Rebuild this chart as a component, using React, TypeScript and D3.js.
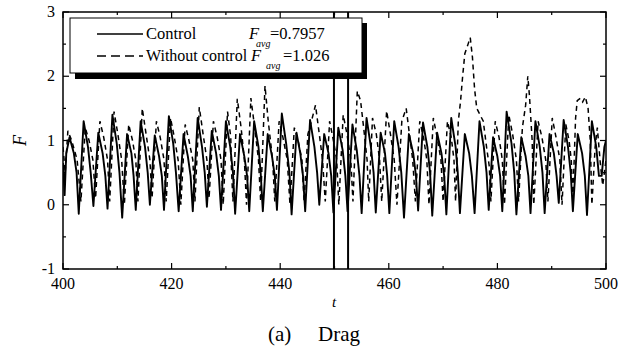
import React from "react";
import * as d3 from "d3";

// ---- data (t, F) ----
const controlSeries: [number, number][] = [
  [400.0, 0.65], [400.3, 0.15], [400.6, 0.8], [401.2, 1.05], [402.0, 0.8], [402.5, 0.5],
  [402.9, -0.14], [403.8, 1.3], [404.6, 0.9], [405.1, 0.5],
  [405.6, -0.02], [406.5, 1.12], [407.3, 0.8], [407.8, 0.45],
  [408.2, -0.06], [409.1, 1.4], [409.9, 0.95], [410.4, 0.5],
  [410.9, -0.2], [411.8, 1.1], [412.6, 0.8], [413.0, 0.45],
  [413.4, -0.08], [414.3, 1.3], [415.1, 0.9], [415.6, 0.5],
  [416.0, 0.0], [416.9, 1.08], [417.7, 0.75], [418.2, 0.45],
  [418.6, -0.08], [419.5, 1.38], [420.3, 0.95], [420.8, 0.5],
  [421.3, -0.1], [422.2, 1.1], [423.0, 0.75], [423.5, 0.45],
  [423.9, -0.1], [424.8, 1.35], [425.6, 0.9], [426.1, 0.5],
  [426.5, -0.03], [427.4, 1.15], [428.2, 0.8], [428.7, 0.45],
  [429.1, -0.08], [430.0, 1.3], [430.8, 0.9], [431.3, 0.5],
  [431.7, -0.14], [432.6, 1.1], [433.4, 0.75], [433.9, 0.45],
  [434.3, -0.1], [435.2, 1.3], [436.0, 0.9], [436.4, 0.5],
  [436.8, -0.1], [437.7, 1.1], [438.5, 0.75], [439.0, 0.45],
  [439.4, -0.08], [440.3, 1.42], [441.1, 0.95], [441.7, 0.5],
  [442.1, -0.15], [443.0, 1.12], [443.7, 0.8], [444.2, 0.45],
  [444.6, -0.1], [445.5, 1.32], [446.3, 0.9], [446.8, 0.5],
  [447.2, 0.0], [448.1, 1.1], [448.9, 0.8], [449.4, 0.45],
  [449.8, -0.12], [450.7, 1.2], [451.5, 0.85], [452.0, 0.45],
  [452.4, -0.1], [453.3, 1.25], [454.1, 0.85], [454.6, 0.45],
  [455.0, -0.13], [455.9, 1.35], [456.7, 0.9], [457.2, 0.5],
  [457.6, -0.12], [458.5, 1.12], [459.3, 0.8], [459.7, 0.45],
  [460.1, -0.13], [461.0, 1.3], [461.8, 0.9], [462.3, 0.5],
  [462.8, -0.2], [463.7, 1.1], [464.5, 0.8], [465.0, 0.45],
  [465.4, -0.09], [466.3, 1.28], [467.1, 0.9], [467.6, 0.5],
  [468.0, -0.17], [468.9, 1.12], [469.7, 0.8], [470.2, 0.45],
  [470.6, -0.15], [471.5, 1.35], [472.3, 0.9], [472.7, 0.5],
  [473.1, -0.13], [474.0, 1.1], [474.8, 0.8], [475.3, 0.45],
  [475.8, -0.13], [476.7, 1.3], [477.5, 0.9], [478.0, 0.5],
  [478.4, -0.08], [479.2, 1.05], [480.0, 0.75], [480.5, 0.45],
  [480.9, -0.1], [481.7, 1.45], [482.6, 0.95], [483.1, 0.5],
  [483.5, -0.15], [484.4, 1.05], [485.2, 0.75], [485.7, 0.45],
  [486.1, -0.13], [487.0, 1.3], [487.8, 0.9], [488.3, 0.5],
  [488.7, -0.13], [489.6, 1.1], [490.4, 0.8], [490.9, 0.45],
  [491.3, 0.03], [492.2, 1.32], [493.0, 0.9], [493.5, 0.5],
  [493.9, -0.1], [494.8, 1.1], [495.6, 0.8], [496.1, 0.45],
  [496.5, -0.16], [497.4, 1.3], [498.2, 0.9], [498.7, 0.45],
  [499.2, 0.45], [499.7, 0.9], [500.0, 1.0],
];

const withoutControlSeries: [number, number][] = [
  [400.0, 0.9], [400.4, 0.5], [400.9, 1.15], [401.6, 1.0], [402.6, 0.7],
  [403.3, 0.05], [404.1, 1.2], [404.8, 1.0], [405.5, 0.7],
  [406.0, 0.1], [406.8, 1.3], [407.5, 1.05], [408.2, 0.7],
  [408.6, 0.05], [409.4, 1.45], [410.1, 1.1], [410.8, 0.7],
  [411.3, 0.0], [412.1, 1.25], [412.8, 1.0], [413.4, 0.7],
  [413.8, 0.05], [414.6, 1.5], [415.3, 1.1], [416.0, 0.7],
  [416.4, 0.1], [417.2, 1.3], [417.9, 1.05], [418.6, 0.7],
  [419.0, 0.05], [419.8, 1.35], [420.5, 1.05], [421.2, 0.7],
  [421.7, 0.0], [422.5, 1.25], [423.2, 1.0], [423.9, 0.7],
  [424.3, 0.05], [425.1, 1.52], [425.8, 1.1], [426.5, 0.7],
  [426.9, 0.1], [427.7, 1.3], [428.4, 1.05], [429.1, 0.7],
  [429.5, 0.0], [430.3, 1.45], [430.9, 1.05], [431.0, 0.6],
  [431.3, 0.05], [432.1, 1.65], [432.8, 1.2], [433.4, 0.7],
  [433.8, 0.0], [434.6, 1.66], [435.3, 1.2], [436.0, 0.7],
  [436.4, 0.05], [437.2, 1.85], [437.8, 1.3], [438.6, 0.7],
  [439.0, 0.05], [439.8, 1.3], [440.5, 1.05], [441.3, 0.7],
  [441.8, 0.0], [442.6, 1.2], [443.3, 1.0], [444.0, 0.7],
  [444.4, 0.05], [445.1, 1.1], [445.6, 1.25], [446.5, 1.55], [447.2, 1.1], [447.8, 0.7],
  [448.3, 0.05], [449.1, 1.3], [449.8, 1.0], [450.4, 0.7],
  [450.8, 0.0], [451.6, 1.4], [452.3, 1.1], [453.0, 0.7],
  [453.4, 0.05], [454.2, 1.77], [454.8, 1.62], [455.5, 1.1], [456.0, 0.7],
  [456.3, 0.05], [457.0, 1.35], [457.7, 1.1], [458.3, 0.7],
  [458.7, 0.05], [459.6, 1.46], [460.3, 1.1], [461.0, 0.7],
  [461.5, 0.0], [462.4, 1.3], [463.2, 1.5], [463.8, 1.1], [464.4, 0.7],
  [464.9, 0.05], [465.7, 1.3], [466.4, 1.05], [467.0, 0.7],
  [467.4, 0.0], [468.2, 1.35], [468.9, 1.05], [469.6, 0.7],
  [470.0, 0.05], [470.8, 1.3], [471.5, 1.05], [472.0, 0.7],
  [472.3, 0.05], [472.8, 1.3], [473.2, 1.6], [473.6, 2.0], [474.0, 2.35], [474.6, 2.5],
  [475.0, 2.6], [475.4, 2.3], [475.8, 1.8], [476.2, 1.5], [476.8, 1.4], [477.4, 1.3],
  [478.0, 0.9], [478.5, 0.6],
  [478.8, 0.05], [479.6, 1.3], [480.3, 1.05], [480.9, 0.7],
  [481.3, 0.0], [482.1, 1.4], [482.8, 1.1], [483.5, 0.7],
  [483.9, 0.05], [484.6, 1.2], [485.2, 1.55], [485.6, 2.0], [485.9, 1.7], [486.4, 1.0],
  [486.7, 0.0], [487.5, 1.3], [488.2, 1.05], [488.9, 0.7],
  [489.3, 0.05], [490.1, 1.35], [490.8, 1.05], [491.5, 0.7],
  [491.9, 0.0], [492.6, 1.25], [493.2, 1.0], [493.6, 0.7],
  [493.9, 0.1], [494.4, 1.35], [494.7, 1.62], [495.3, 1.66], [495.7, 1.6], [496.2, 1.68],
  [496.7, 1.5], [497.1, 1.0],
  [497.4, 0.0], [498.0, 0.9], [498.4, 1.2], [499.0, 0.6], [499.4, 0.3], [500.0, 0.7],
];

const xTicks = [400, 420, 440, 460, 480, 500];
const xMinorTicks = [410, 430, 450, 470, 490];
const yTicks = [-1, 0, 1, 2, 3];
const yMinorTicks = [-0.5, 0.5, 1.5, 2.5];
const markerLines = [449.9, 452.5];
const legendAvgControl = "=0.7957";
const legendAvgWithout = "=1.026";

const W = 627;
const H = 349;
const left = 63;
const right = 606;
const top = 12;
const bottom = 269;

const SERIF = "Liberation Serif, Times New Roman, serif";

export default function App() {
  const x = d3.scaleLinear().domain([400, 500]).range([left, right]);
  const y = d3.scaleLinear().domain([-1, 3]).range([bottom, top]);
  const line = d3
    .line<[number, number]>()
    .x((d) => x(d[0]))
    .y((d) => y(d[1]));

  const major = 6;
  const minor = 3;
  const ts = { fontFamily: SERIF };

  return (
    <svg
      width={W}
      height={H}
      viewBox={`0 0 ${W} ${H}`}
      style={{ position: "absolute", left: 0, top: 0, background: "#fff", fontFamily: SERIF }}
    >
      <rect x={0} y={0} width={W} height={H} fill="#fff" />
      <defs>
        <clipPath id="plotclip">
          <rect x={left} y={top} width={right - left} height={bottom - top} />
        </clipPath>
      </defs>

      {/* data */}
      <g clipPath="url(#plotclip)">
        <path
          d={line(withoutControlSeries) || ""}
          fill="none"
          stroke="#000"
          strokeWidth={1.5}
          strokeDasharray="5,4"
        />
        <path
          d={line(controlSeries) || ""}
          fill="none"
          stroke="#000"
          strokeWidth={1.9}
          strokeLinejoin="round"
        />
        {markerLines.map((t) => (
          <line key={t} x1={x(t)} x2={x(t)} y1={top} y2={bottom} stroke="#000" strokeWidth={2} />
        ))}
      </g>

      {/* frame */}
      <rect x={left} y={top} width={right - left} height={bottom - top} fill="none" stroke="#000" strokeWidth={1.5} />

      {/* x ticks */}
      {xTicks.map((t) => (
        <g key={"xt" + t}>
          <line x1={x(t)} x2={x(t)} y1={bottom} y2={bottom - major} stroke="#000" strokeWidth={1.2} />
          <line x1={x(t)} x2={x(t)} y1={top} y2={top + major} stroke="#000" strokeWidth={1.2} />
          <text x={x(t)} y={bottom + 20} fontSize={16} textAnchor="middle" style={ts}>
            {t}
          </text>
        </g>
      ))}
      {xMinorTicks.map((t) => (
        <g key={"xm" + t}>
          <line x1={x(t)} x2={x(t)} y1={bottom} y2={bottom - minor} stroke="#000" strokeWidth={1.2} />
          <line x1={x(t)} x2={x(t)} y1={top} y2={top + minor} stroke="#000" strokeWidth={1.2} />
        </g>
      ))}

      {/* y ticks */}
      {yTicks.map((v) => (
        <g key={"yt" + v}>
          <line x1={left} x2={left + major} y1={y(v)} y2={y(v)} stroke="#000" strokeWidth={1.2} />
          <line x1={right} x2={right - major} y1={y(v)} y2={y(v)} stroke="#000" strokeWidth={1.2} />
          <text x={left - 8} y={y(v) + 5} fontSize={16} textAnchor="end" style={ts}>
            {v}
          </text>
        </g>
      ))}
      {yMinorTicks.map((v) => (
        <g key={"ym" + v}>
          <line x1={left} x2={left + minor} y1={y(v)} y2={y(v)} stroke="#000" strokeWidth={1.2} />
          <line x1={right} x2={right - minor} y1={y(v)} y2={y(v)} stroke="#000" strokeWidth={1.2} />
        </g>
      ))}

      {/* axis labels */}
      <text x={334} y={307} fontSize={15} fontStyle="italic" textAnchor="middle" style={ts}>
        t
      </text>
      <text
        transform={`translate(26,${y(1)}) rotate(-90)`}
        fontSize={18}
        fontStyle="italic"
        textAnchor="middle"
        style={ts}
      >
        F
      </text>
      <text x={268} y={341} fontSize={21} style={ts}>
        (a)
      </text>
      <text x={318} y={341} fontSize={21} style={ts}>
        Drag
      </text>

      {/* legend */}
      <rect x={75} y={23} width={292} height={56} fill="#000" />
      <rect x={70} y={18} width={292} height={55} fill="#fff" stroke="#000" strokeWidth={1} />
      <line x1={97} x2={143} y1={34} y2={34} stroke="#000" strokeWidth={1.5} />
      <text x={146} y={39} fontSize={16.5} style={ts}>
        Control
      </text>
      <text x={249} y={39} fontSize={16.5} fontStyle="italic" style={ts}>
        F
      </text>
      <text x={256} y={47} fontSize={10} fontStyle="italic" style={ts}>
        avg
      </text>
      <text x={270} y={39} fontSize={16.5} style={ts}>
        {legendAvgControl}
      </text>
      <line x1={97} x2={143} y1={56} y2={56} stroke="#000" strokeWidth={1.5} strokeDasharray="9,5" />
      <text x={146} y={61} fontSize={16} style={ts}>
        Without control
      </text>
      <text x={251} y={61} fontSize={16.5} fontStyle="italic" style={ts}>
        F
      </text>
      <text x={266} y={69} fontSize={10} fontStyle="italic" style={ts}>
        avg
      </text>
      <text x={283} y={61} fontSize={16.5} style={ts}>
        {legendAvgWithout}
      </text>
    </svg>
  );
}
